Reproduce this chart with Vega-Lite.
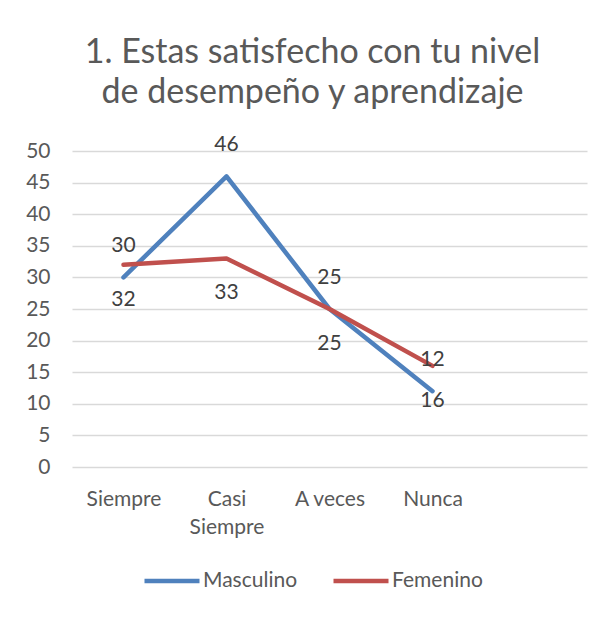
{
  "$schema": "https://vega.github.io/schema/vega-lite/v6.json",
  "autosize": "none",
  "width": 515,
  "height": 316,
  "padding": {"left": 72, "top": 151, "right": 23, "bottom": 151},
  "background": "white",
  "config": {
    "font": "Lato",
    "view": {"stroke": null}
  },
  "title": {
    "text": ["1. Estas satisfecho con tu nivel", "de desempeño y aprendizaje"],
    "fontSize": 34,
    "fontWeight": "normal",
    "color": "#595959",
    "anchor": "middle",
    "frame": "group",
    "dx": -17,
    "lineHeight": 40,
    "offset": 24
  },
  "data": {
    "values": [
      {"categoria": "Siempre", "serie": "Masculino", "valor": 30},
      {"categoria": "Casi Siempre", "serie": "Masculino", "valor": 46},
      {"categoria": "A veces", "serie": "Masculino", "valor": 25},
      {"categoria": "Nunca", "serie": "Masculino", "valor": 12},
      {"categoria": "Siempre", "serie": "Femenino", "valor": 32},
      {"categoria": "Casi Siempre", "serie": "Femenino", "valor": 33},
      {"categoria": "A veces", "serie": "Femenino", "valor": 25},
      {"categoria": "Nunca", "serie": "Femenino", "valor": 16}
    ]
  },
  "encoding": {
    "x": {
      "field": "categoria",
      "type": "ordinal",
      "scale": {"type": "point", "domain": ["Siempre", "Casi Siempre", "A veces", "Nunca", " "], "padding": 0.5},
      "axis": {
        "title": null,
        "labelAngle": 0,
        "domain": false,
        "ticks": false,
        "grid": false,
        "labelFontSize": 21,
        "labelColor": "#595959",
        "labelPadding": 21,
        "labelLineHeight": 28,
        "labelExpr": "datum.value == 'Casi Siempre' ? ['Casi', 'Siempre'] : datum.value"
      }
    },
    "y": {
      "field": "valor",
      "type": "quantitative",
      "scale": {"domain": [0, 50]},
      "axis": {
        "title": null,
        "values": [0, 5, 10, 15, 20, 25, 30, 35, 40, 45, 50],
        "domain": false,
        "ticks": false,
        "grid": true,
        "gridColor": "#d9d9d9",
        "gridWidth": 1.5,
        "labelFontSize": 21,
        "labelColor": "#595959",
        "labelPadding": 22
      }
    }
  },
  "layer": [
    {
      "mark": {"type": "line", "strokeWidth": 4.5, "strokeCap": "round", "strokeJoin": "round"},
      "encoding": {
        "color": {
          "field": "serie",
          "type": "nominal",
          "scale": {"domain": ["Masculino", "Femenino"], "range": ["#4F81BD", "#C0504D"]},
          "legend": {
            "title": null,
            "orient": "none",
            "direction": "horizontal",
            "legendX": 70,
            "legendY": 400,
            "symbolType": "stroke",
            "symbolSize": 3025,
            "symbolStrokeWidth": 4.5,
            "labelFontSize": 21,
            "labelColor": "#595959",
            "labelOffset": 1,
            "columnPadding": 26
          }
        }
      }
    },
    {
      "transform": [{"filter": "datum.serie == 'Masculino'"}],
      "mark": {"type": "text", "dy": -31, "fontSize": 21, "color": "#404040"},
      "encoding": {"text": {"field": "valor", "type": "quantitative"}}
    },
    {
      "transform": [{"filter": "datum.serie == 'Femenino'"}],
      "mark": {"type": "text", "dy": 35, "fontSize": 21, "color": "#404040"},
      "encoding": {"text": {"field": "valor", "type": "quantitative"}}
    }
  ]
}
